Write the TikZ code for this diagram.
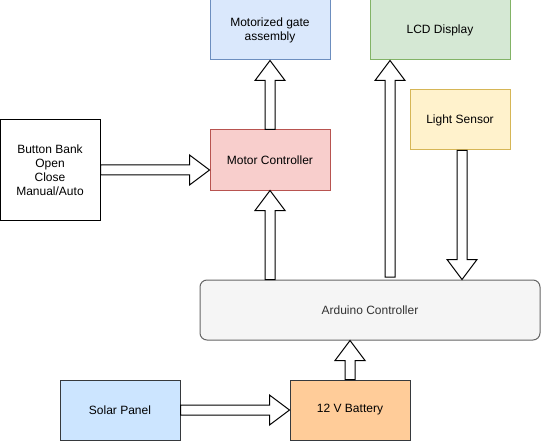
\documentclass[tikz,border=0pt]{standalone}
\usepackage{fontspec}
\setmainfont{Liberation Sans}
\usetikzlibrary{calc, positioning}
\definecolor{gatefill}{HTML}{dae8fc}
\definecolor{gatedraw}{HTML}{6c8ebf}
\definecolor{lcdfill}{HTML}{d5e8d4}
\definecolor{lcddraw}{HTML}{82b366}
\definecolor{lsfill}{HTML}{fff2cc}
\definecolor{lsdraw}{HTML}{d6b656}
\definecolor{mcfill}{HTML}{f8cecc}
\definecolor{mcdraw}{HTML}{b85450}
\definecolor{ardfill}{HTML}{f5f5f5}
\definecolor{arddraw}{HTML}{666666}
\definecolor{ardtext}{HTML}{333333}
\definecolor{solarfill}{HTML}{cce5ff}
\definecolor{batfill}{HTML}{ffcc99}
\definecolor{darkdraw}{HTML}{36393d}
\newcommand\blockarrow[2]{%
  \coordinate (ba-h) at ($(#2)!20pt!(#1)$);
  \draw[blockarr] ($(#1)!5pt!90:(#2)$) -- ($(ba-h)!5pt!90:(#2)$) -- ($(ba-h)!15pt!90:(#2)$)
    -- (#2) -- ($(ba-h)!15pt!-90:(#2)$) -- ($(ba-h)!5pt!-90:(#2)$) -- ($(#1)!5pt!-90:(#2)$) -- cycle;}

\begin{document}
\begin{tikzpicture}[x=1pt, y=-1pt,
                box/.style={draw, line width=1pt, align=center, inner sep=0pt,
                    minimum width=120pt, minimum height=60pt,
                    font=\fontsize{12}{14}\selectfont},
                blockarr/.style={draw=black, fill=white, line width=1pt, line join=miter}]
            \useasboundingbox (0,0) rectangle (541,441);
            \node[box, fill=gatefill, draw=gatedraw] (gate) at (270,30) {Motorized gate\\assembly};
            \node[box, fill=lcdfill, draw=lcddraw, minimum width=140pt] (lcd) at (440,30) {LCD Display};
            \node[box, fill=lsfill, draw=lsdraw, minimum width=100pt] (ls) at (460,120) {Light Sensor};
            \node[box, fill=white, draw=black, minimum width=100pt, minimum height=100pt] (btn) at (50,170)
                {Button Bank\\Open\\Close\\Manual/Auto};
            \node[box, fill=mcfill, draw=mcdraw] (mc) at (270,160) {Motor Controller};
            \node[box, fill=ardfill, draw=arddraw, text=ardtext, rounded corners=7pt,
                minimum width=340pt] (ard) at (370,310) {Arduino Controller};
            \node[box, fill=solarfill, draw=darkdraw] (solar) at (120,410) {Solar Panel};
            \node[box, fill=batfill, draw=darkdraw] (bat) at (350,410) {12 V Battery};
            \coordinate (lcdout) at (390,277);
            \coordinate (lsout) at ($(ls.south)+(2,0)$);
            \blockarrow{mc.north}{gate.south}
            \blockarrow{btn.east}{mc.west |- btn.east}
            \blockarrow{mc.south |- ard.north}{mc.south}
            \blockarrow{lcdout}{lcdout |- lcd.south}
            \blockarrow{lsout}{lsout |- ard.north}
            \blockarrow{bat.north}{bat.north |- ard.south}
            \blockarrow{solar.east}{bat.west}
        \end{tikzpicture}
\end{document}
